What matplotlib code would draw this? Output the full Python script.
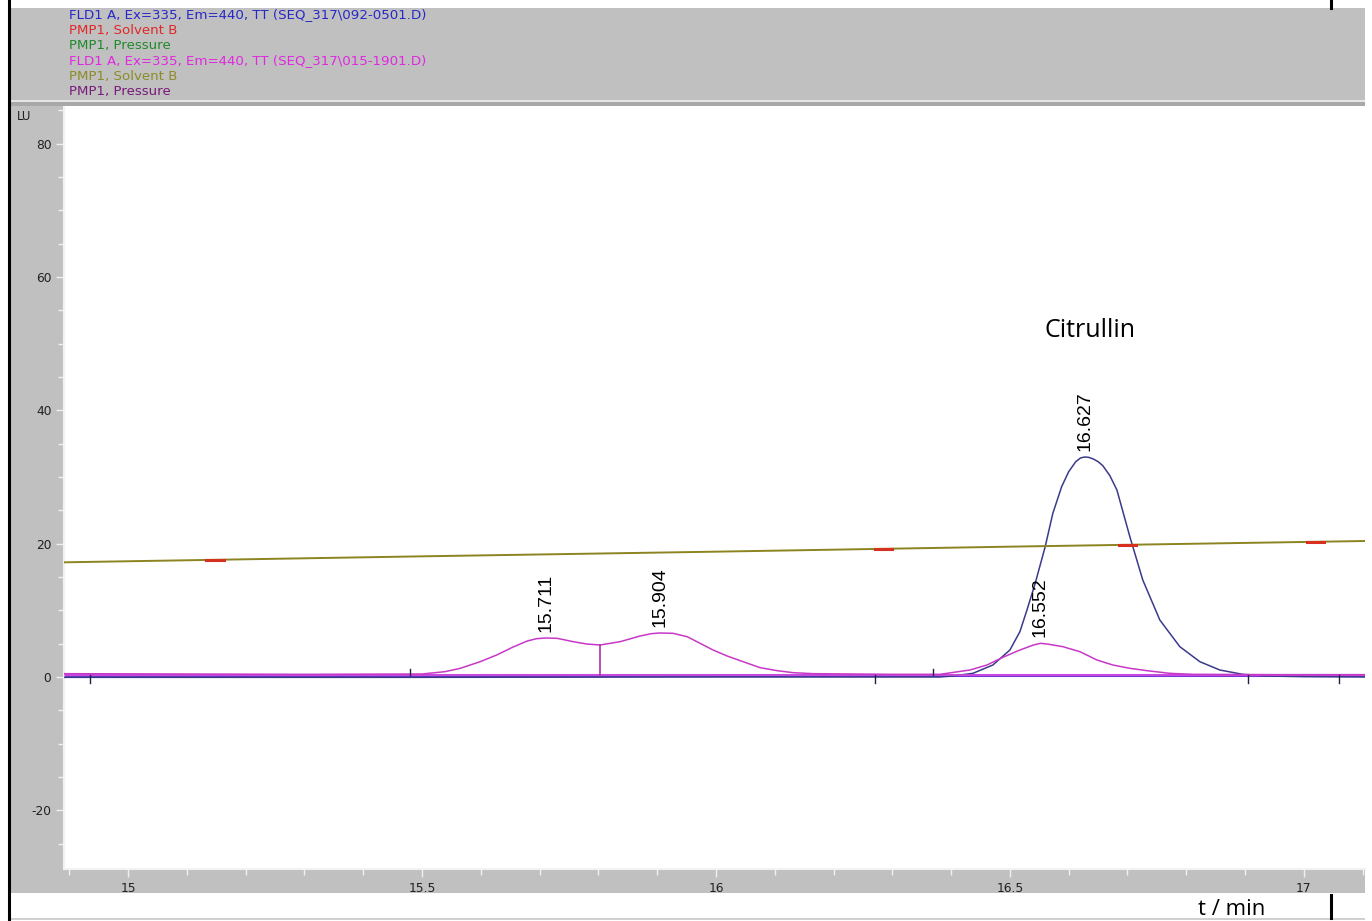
import matplotlib
matplotlib.use("Agg")
import matplotlib.pyplot as plt
from matplotlib.patches import Rectangle
from matplotlib.lines import Line2D
from matplotlib.ticker import MultipleLocator

plt.rcParams['font.family'] = ['Liberation Sans', 'DejaVu Sans']
plt.rcParams['axes.unicode_minus'] = False

# FLD1 A signal, run 092-0501 (navy trace)
navy_t = [14.89, 15.50, 16.00, 16.38, 16.403, 16.437, 16.471, 16.500, 16.517, 16.529,
          16.543, 16.560, 16.573, 16.588, 16.600, 16.612, 16.620, 16.627, 16.634,
          16.642, 16.650, 16.658, 16.670, 16.682, 16.704, 16.726, 16.755, 16.789,
          16.823, 16.857, 16.896, 16.937, 17.00, 17.104]
navy_y = [-0.05, -0.05, 0.0, 0.0, 0.15, 0.55, 1.8, 4.05, 6.8, 10.05,
          14.05, 19.55, 24.55, 28.55, 30.8, 32.3, 32.85, 33.0, 32.95,
          32.7, 32.3, 31.7, 30.2, 28.05, 21.05, 14.55, 8.55, 4.55,
          2.3, 1.05, 0.4, 0.15, 0.05, 0.0]

# FLD1 A signal, run 015-1901 (magenta trace)
mag_t = [14.89, 15.30, 15.50, 15.539, 15.565, 15.599, 15.627, 15.655, 15.679, 15.695,
         15.711, 15.730, 15.757, 15.780, 15.803, 15.837, 15.871, 15.890, 15.904,
         15.927, 15.951, 15.973, 15.995, 16.019, 16.046, 16.075, 16.104, 16.131,
         16.165, 16.30, 16.381, 16.432, 16.461, 16.488, 16.517, 16.540, 16.552,
         16.563, 16.590, 16.619, 16.648, 16.675, 16.704, 16.733, 16.772, 16.811,
         16.95, 17.104]
mag_y = [0.5, 0.4, 0.45, 0.8, 1.3, 2.3, 3.3, 4.5, 5.4, 5.75,
         5.85, 5.8, 5.3, 4.95, 4.8, 5.3, 6.15, 6.5, 6.6,
         6.55, 6.05, 5.05, 4.05, 3.15, 2.3, 1.4, 0.95, 0.65,
         0.5, 0.4, 0.4, 1.05, 1.8, 2.95, 4.05, 4.8, 5.05,
         4.95, 4.55, 3.8, 2.55, 1.8, 1.3, 0.95, 0.55, 0.4,
         0.35, 0.35]

# PMP1 solvent B gradient (%B plotted on the LU scale)
solv_t = [14.89, 15.50, 16.00, 16.50, 17.104]
solv_y = [17.2, 18.1, 18.8, 19.55, 20.4]
solv_red_t = [15.148, 16.285, 16.700, 17.020]

# integration events
peak_t = [15.711, 15.904, 16.552, 16.627]
peak_h = [5.85, 6.6, 5.05, 33.0]
peak_lbl = ["15.711", "15.904", "16.552", "16.627"]
drop_t = 15.803
drop_top = 4.8
marks_down = [14.935, 16.27, 16.905, 17.06]
marks_up = [15.48, 16.37]

legend_lines = ["FLD1 A, Ex=335, Em=440, TT (SEQ_317\\092-0501.D)",
                "PMP1, Solvent B",
                "PMP1, Pressure",
                "FLD1 A, Ex=335, Em=440, TT (SEQ_317\\015-1901.D)",
                "PMP1, Solvent B",
                "PMP1, Pressure"]
legend_colors = ["#2828c8", "#e02828", "#1f8a2a", "#e028e0", "#8c8c28", "#7a1a7a"]

W, H = 1372, 921
fig = plt.figure(figsize=(W / 100, H / 100), dpi=100)
fig.patch.set_facecolor("white")


def box(x0, y0, x1, y1, **kw):
    # rectangle given in pixel coordinates (top-left origin)
    fig.patches.append(Rectangle((x0 / W, 1 - y1 / H), (x1 - x0) / W, (y1 - y0) / H,
                                 transform=fig.transFigure, zorder=-5, **kw))


def vline(x, y0, y1, **kw):
    fig.lines.append(Line2D([x / W, x / W], [1 - y0 / H, 1 - y1 / H],
                            transform=fig.transFigure, **kw))


gray = "#c0c0c0"
box(10, 8, 1365, 100, color=gray, lw=0)
box(10, 100, 1365, 102, color="#e6e6e6", lw=0)
box(10, 102, 1365, 106, color="#a8a8a8", lw=0)
box(10, 106, 64, 893, color=gray, lw=0)
box(10, 869, 1365, 893, color=gray, lw=0)
box(10, 918, 1365, 920, color="#d0d0d0", lw=0)
vline(9, 0, 921, color="black", lw=2.2)
vline(1331, 0, 8, color="black", lw=2.2)
vline(1331, 895, 918, color="black", lw=2.2)

ui_font = ["DejaVu Sans"]
for i, (txt, c) in enumerate(zip(legend_lines, legend_colors)):
    fig.text(69 / W, 1 - (15 + 15.3 * i) / H, txt, color=c, fontsize=9.6,
             va="center", ha="left", family=ui_font)

fig.text(17 / W, 1 - 116 / H, "LU", fontsize=8.5, color="#202020", va="center",
         ha="left", family=ui_font)
fig.text(1232 / W, 1 - 909 / H, "t / min", fontsize=16, color="black",
         va="center", ha="center", family=["Open Sans", "DejaVu Sans"])

ax = fig.add_axes([64 / W, 1 - 869 / H, (1365 - 64) / W, (869 - 107) / H])
ax.set_zorder(2)
ax.set_facecolor("white")
ax.set_xlim(14.891, 17.104)
ax.set_ylim(-28.8, 85.5)

# chromatograms and gradient
ax.plot(navy_t, navy_y, color="#3a3a8c", lw=1.1, zorder=3)
ax.plot([14.89, 17.104], [0.3, 0.3], color="#7a35d8", lw=2.2, zorder=2)
ax.plot([14.89, 17.104], [0.35, 0.35], color="#e050e0", lw=1.3, alpha=0.85, zorder=4)
ax.plot(mag_t, mag_y, color="#c838c8", lw=1.1, zorder=5)
ax.plot(solv_t, solv_y, color="#8c8420", lw=1.4, zorder=3)
for t in solv_red_t:
    yv = solv_y[0] + (solv_y[-1] - solv_y[0]) * (t - solv_t[0]) / (solv_t[-1] - solv_t[0])
    ax.plot([t - 0.015, t + 0.015], [yv, yv], color="#d83020", lw=2.2, zorder=4)

# integration marks
ax.plot([drop_t, drop_t], [0.35, drop_top], color="#b030b0", lw=1.2, zorder=5)
for t in marks_down:
    ax.plot([t, t], [0.3, -0.9], color="#202040", lw=1.0, zorder=5)
for t in marks_up:
    ax.plot([t, t], [0.3, 1.2], color="#202040", lw=1.0, zorder=5)

for t, h, s in zip(peak_t, peak_h, peak_lbl):
    ax.text(t, h + 0.9, s, rotation=90, ha="center", va="bottom",
            fontsize=14, color="black", zorder=6)

ax.text(16.636, 52.0, "Citrullin", fontsize=18, ha="center", va="center",
        family=["Open Sans", "DejaVu Sans"])

ax.xaxis.set_major_locator(MultipleLocator(0.5))
ax.xaxis.set_minor_locator(MultipleLocator(0.1))
ax.yaxis.set_major_locator(MultipleLocator(20))
ax.yaxis.set_minor_locator(MultipleLocator(5))
ax.set_xticks([15, 15.5, 16, 16.5, 17])
ax.set_xticklabels(["15", "15.5", "16", "16.5", "17"])
for lab in ax.get_xticklabels() + ax.get_yticklabels():
    lab.set_family(ui_font)
ax.tick_params(which="both", direction="out", color="#f0f0f0", labelcolor="#202020",
               labelsize=8.8, width=1)
ax.tick_params(which="major", length=6, pad=3)
ax.tick_params(which="minor", length=4)
for side in ["top", "right"]:
    ax.spines[side].set_visible(False)
for side in ["left", "bottom"]:
    ax.spines[side].set_color("#f2f2f2")
    ax.spines[side].set_linewidth(1.5)

fig.savefig("out.png", dpi=100)
